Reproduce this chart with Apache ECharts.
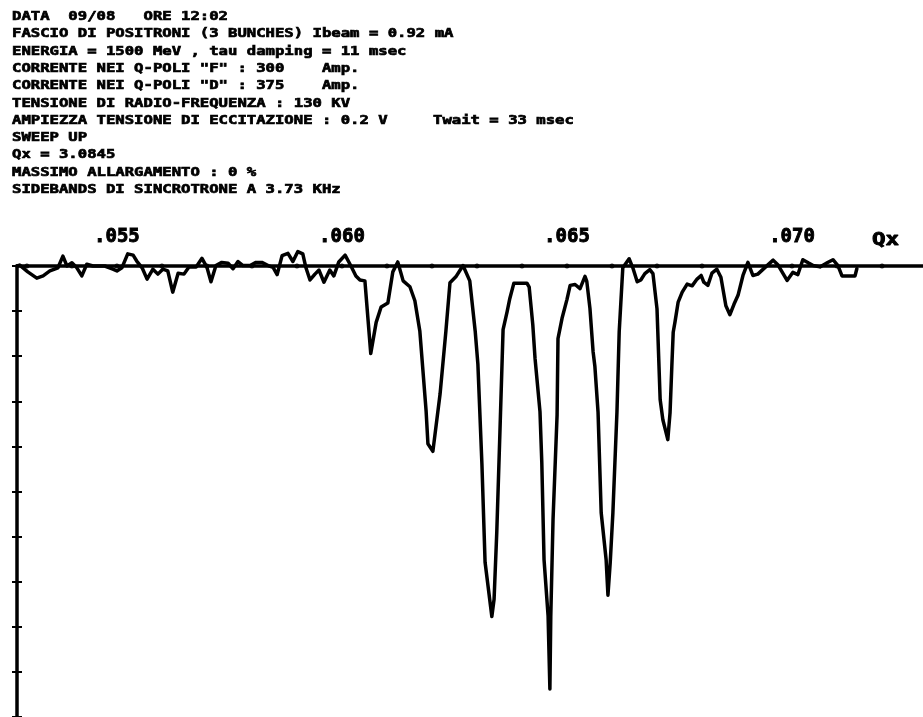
<!DOCTYPE html>
<html>
<head>
<meta charset="utf-8">
<script src="https://cdn.jsdelivr.net/npm/echarts@6/dist/echarts.min.js"></script>
<style>
html,body{margin:0;padding:0;background:#fff;}
#chart{width:923px;height:717px;}
</style>
</head>
<body>
<div id="chart"></div>
<script>
// Header text lines
const headerLines = [
  'DATA  09/08   ORE 12:02',
  'FASCIO DI POSITRONI (3 BUNCHES) Ibeam = 0.92 mA',
  'ENERGIA = 1500 MeV , tau damping = 11 msec',
  'CORRENTE NEI Q-POLI "F" : 300    Amp.',
  'CORRENTE NEI Q-POLI "D" : 375    Amp.',
  'TENSIONE DI RADIO-FREQUENZA : 130 KV',
  'AMPIEZZA TENSIONE DI ECCITAZIONE : 0.2 V',
  'SWEEP UP',
  'Qx = 3.0845',
  'MASSIMO ALLARGAMENTO : 0 %',
  'SIDEBANDS DI SINCROTRONE A 3.73 KHz'
];
const sideNote = 'Twait = 33 msec';
const axisName = 'Qx';

// Axis range and ticks
const xRange = [0.05278, 0.07291];
const xLabelValues = [0.055, 0.060, 0.065, 0.070];
const xDotValues = [0.053,0.054,0.055,0.056,0.057,0.058,0.059,0.060,0.061,0.062,0.063,0.064,0.065,0.066,0.067,0.068,0.069,0.070,0.071,0.072];
const yRange = [-10, 0];

// Measured trace: tune Qx vs response (arbitrary units, 0 = baseline)
const qxValues = [
  0.05278,0.05284,0.05302,0.05322,0.05336,0.05351,0.05369,0.05380,0.05389,0.05400,
  0.05411,0.05422,0.05433,0.05447,0.05473,0.05491,0.05500,0.05511,0.05524,0.05536,
  0.05544,0.05556,0.05567,0.05580,0.05591,0.05602,0.05613,0.05624,0.05636,0.05649,
  0.05660,0.05676,0.05689,0.05700,0.05709,0.05720,0.05733,0.05747,0.05758,0.05769,
  0.05780,0.05796,0.05809,0.05822,0.05836,0.05847,0.05856,0.05867,0.05880,0.05891,
  0.05902,0.05913,0.05920,0.05929,0.05940,0.05949,0.05960,0.05973,0.05982,0.05993,
  0.06007,0.06020,0.06031,0.06040,0.06051,0.06064,0.06076,0.06087,0.06102,0.06113,
  0.06124,0.06136,0.06151,0.06162,0.06173,0.06187,0.06191,0.06202,0.06218,0.06231,
  0.06240,0.06253,0.06269,0.06284,0.06296,0.06302,0.06311,0.06318,0.06333,0.06338,
  0.06344,0.06351,0.06358,0.06367,0.06373,0.06382,0.06411,0.06416,0.06424,0.06429,
  0.06440,0.06444,0.06449,0.06458,0.06462,0.06464,0.06469,0.06478,0.06480,0.06489,
  0.06500,0.06507,0.06518,0.06529,0.06540,0.06544,0.06551,0.06558,0.06562,0.06569,
  0.06576,0.06587,0.06591,0.06596,0.06602,0.06611,0.06616,0.06624,0.06638,0.06647,
  0.06656,0.06664,0.06673,0.06684,0.06691,0.06700,0.06707,0.06713,0.06724,0.06729,
  0.06733,0.06736,0.06740,0.06747,0.06756,0.06767,0.06778,0.06789,0.06798,0.06804,
  0.06813,0.06822,0.06833,0.06842,0.06853,0.06862,0.06871,0.06880,0.06891,0.06902,
  0.06913,0.06924,0.06936,0.06958,0.06969,0.06989,0.07002,0.07013,0.07024,0.07036,
  0.07047,0.07062,0.07078,0.07091,0.07102,0.07111,0.07140,0.07144
];
const ampValues = [
  0.00,0.02,-0.13,-0.27,-0.22,-0.11,-0.04,0.22,0.00,0.07,
  -0.04,-0.22,0.04,0.00,0.00,-0.07,-0.11,-0.04,0.27,0.24,
  0.11,-0.04,-0.29,-0.07,-0.18,-0.07,-0.11,-0.58,-0.16,-0.18,
  -0.02,-0.02,0.17,-0.03,-0.35,0.01,0.08,0.06,-0.06,0.10,
  0.01,0.01,0.08,0.08,0.01,-0.03,-0.19,0.23,0.28,0.10,
  0.32,0.27,-0.04,-0.31,-0.18,-0.09,-0.36,-0.09,-0.22,0.09,
  0.24,0.00,-0.22,-0.31,-0.33,-1.94,-1.25,-0.91,-0.82,-0.13,
  0.09,-0.33,-0.46,-0.77,-1.44,-3.22,-3.94,-4.11,-2.84,-1.44,
  -0.37,-0.24,0.01,-0.33,-1.44,-2.17,-4.40,-6.57,-7.77,-7.39,
  -5.90,-3.68,-1.41,-1.01,-0.72,-0.38,-0.38,-0.47,-1.30,-2.05,
  -3.23,-4.35,-6.51,-7.76,-9.38,-7.76,-5.62,-3.30,-1.61,-1.16,
  -0.74,-0.43,-0.41,-0.50,-0.23,-0.34,-0.94,-1.90,-2.23,-3.24,
  -5.47,-6.52,-7.30,-6.58,-5.47,-3.24,-1.46,-0.04,0.16,-0.06,
  -0.35,-0.31,-0.17,-0.08,-0.17,-0.95,-2.96,-3.41,-3.85,-3.25,
  -2.21,-1.47,-1.24,-0.80,-0.58,-0.40,-0.44,-0.29,-0.21,-0.36,
  -0.43,-0.16,-0.07,-0.25,-0.88,-1.08,-0.85,-0.65,-0.21,0.08,
  -0.21,-0.18,-0.07,0.13,0.02,-0.32,-0.14,-0.19,0.14,0.07,
  0.01,-0.02,0.07,0.14,0.01,-0.22,-0.22,-0.06
];

const trace = qxValues.map((q, i) => [q, ampValues[i]]);
const dots = xDotValues.map(v => [v, 0]);

const FONT = '"DejaVu Sans Mono", monospace';
const chart = echarts.init(document.getElementById('chart'), null, {renderer: 'canvas'});
chart.setOption({
  animation: false,
  backgroundColor: '#ffffff',
  grid: {left: 17, right: 0, top: 266, bottom: 0, containLabel: false, outerBoundsMode: 'none'},
  xAxis: {
    type: 'value', position: 'top', min: xRange[0], max: xRange[1],
    axisLine: {show: true, lineStyle: {color: '#000', width: 3.5}},
    axisTick: {show: false},
    splitLine: {show: false},
    axisLabel: {
      customValues: xLabelValues, margin: 19,
      color: '#000', fontFamily: FONT, fontWeight: 'bold', fontSize: 19,
      textBorderColor: '#000', textBorderWidth: 0.9,
      formatter: v => '.' + String(Math.round(v * 1000)).padStart(3, '0')
    }
  },
  yAxis: [{
    type: 'value', position: 'left', min: yRange[0], max: yRange[1], interval: 1,
    axisLine: {show: true, lineStyle: {color: '#000', width: 3.5}},
    axisTick: {show: true, inside: false, length: 5, lineStyle: {color: '#000', width: 2}},
    axisLabel: {show: false}, splitLine: {show: false}
  }, {
    type: 'value', position: 'left', min: yRange[0], max: yRange[1], interval: 1,
    axisLine: {show: false},
    axisTick: {show: true, inside: true, length: 5, lineStyle: {color: '#000', width: 2}},
    axisLabel: {show: false}, splitLine: {show: false}
  }],
  series: [{
    type: 'scatter', data: dots, symbol: 'circle', symbolSize: 5,
    itemStyle: {color: '#000'}, silent: true, z: 3
  }, {
    type: 'line', data: trace, showSymbol: false, symbol: 'none', smooth: false,
    lineStyle: {color: '#000', width: 3.5, join: 'round', cap: 'round'},
    silent: true, z: 4, clip: false
  }],
  graphic: [{
    type: 'text', x: 12, y: 8, scaleX: 1.2, scaleY: 1,
    style: {
      text: headerLines.join('\n'), fill: '#000', stroke: '#000', lineWidth: 0.7,
      font: 'bold 13px ' + FONT, lineHeight: 17.3
    }
  }, {
    type: 'text', x: 433, y: 8 + 17.3 * 6, scaleX: 1.2,
    style: {text: sideNote, fill: '#000', stroke: '#000', lineWidth: 0.7, font: 'bold 13px ' + FONT, lineHeight: 17.3}
  }, {
    type: 'text', x: 872, y: 231, scaleX: 1.25,
    style: {text: axisName, fill: '#000', stroke: '#000', lineWidth: 0.9, font: 'bold 18px ' + FONT}
  }]
});
</script>
</body>
</html>
